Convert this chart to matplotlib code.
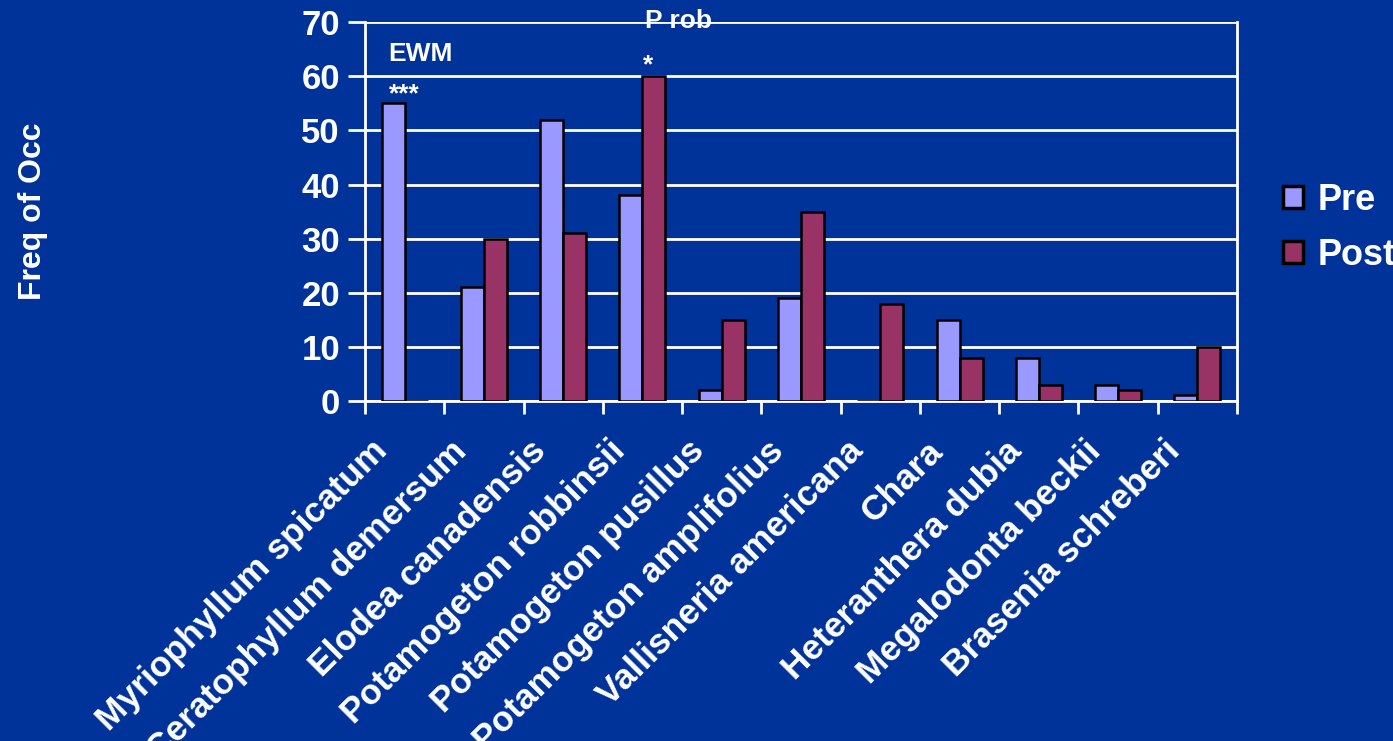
import matplotlib
matplotlib.use('Agg')
import matplotlib.pyplot as plt
import matplotlib.transforms as mtransforms
import numpy as np

plt.rcParams['font.family'] = ['Liberation Sans', 'DejaVu Sans']
plt.rcParams['font.weight'] = 'bold'

species = ['Myriophyllum spicatum', 'Ceratophyllum demersum', 'Elodea canadensis',
           'Potamogeton robbinsii', 'Potamogeton pusillus', 'Potamogeton amplifolius',
           'Vallisneria americana', 'Chara', 'Heteranthera dubia',
           'Megalodonta beckii', 'Brasenia schreberi']
pre = [55, 21, 52, 38, 2, 19, 0, 15, 8, 3, 1]
post = [0, 30, 31, 60, 15, 35, 18, 8, 3, 2, 10]
yticks = [0, 10, 20, 30, 40, 50, 60, 70]

bg = '#003399'
pre_col = '#9999FF'
post_col = '#993366'

fig = plt.figure(figsize=(13.93, 7.41), dpi=100, facecolor=bg)
ax = fig.add_axes([0.262, 0.459, 0.626, 0.511])
ax.set_facecolor(bg)

x = np.arange(len(species))
w = 0.29
ax.bar(x - w/2, pre, w, color=pre_col, edgecolor='black', linewidth=1.8,
       label='Pre', zorder=3)
ax.bar(x + w/2, post, w, color=post_col, edgecolor='black', linewidth=1.8,
       label='Post', zorder=3)

ax.set_xlim(-0.5, len(species) - 0.5)
ax.set_ylim(0, 70)
ax.set_yticks(yticks)
ax.grid(axis='y', color='white', linewidth=2, zorder=1)

# category boundary ticks on x, labels at centers
ax.set_xticks(np.arange(len(species) + 1) - 0.5)
ax.set_xticklabels([])
ax.set_xticks(x, minor=True)
ax.set_xticklabels(species, minor=True, rotation=45, ha='right',
                   rotation_mode='anchor', fontsize=25.5, color='white',
                   fontweight='bold')
ax.tick_params(axis='x', which='minor', length=0, pad=14)
ax.tick_params(axis='x', which='major', length=9, width=2, color='white')
ax.tick_params(axis='y', length=12, width=2, color='white',
               labelsize=25, labelcolor='white', pad=6)
shift = mtransforms.ScaledTranslation(-34/100, -14/100, fig.dpi_scale_trans)
for lab in ax.get_xticklabels(minor=True):
    lab.set_transform(lab.get_transform() + shift)

ax.spines['top'].set_visible(False)
for s in ['left', 'right', 'bottom']:
    ax.spines[s].set_color('white')
    ax.spines[s].set_linewidth(2)

ax.set_ylabel('Freq of Occ', fontsize=23, color='white', fontweight='bold')
ax.yaxis.set_label_coords(-0.364, 0.5)

ax.text(-0.21, 62.9, 'EWM', color='white', fontsize=19, fontweight='bold',
        ha='left', va='baseline')
ax.text(0.0, 55.4, '***', color='white', fontsize=19, fontweight='bold',
        ha='center', va='baseline')
ax.text(3.07, 60.7, '*', color='white', fontsize=19, fontweight='bold',
        ha='center', va='baseline')
ax.text(3.03, 69.0, 'P rob', color='white', fontsize=19, fontweight='bold',
        ha='left', va='baseline', clip_on=False, zorder=0)

leg = fig.legend(*ax.get_legend_handles_labels(), loc='upper left',
                 bbox_to_anchor=(1272/1393, 1 - 172/741), frameon=False,
                 fontsize=26, labelcolor='white', handlelength=0.55,
                 handleheight=0.55, handletextpad=0.4, labelspacing=0.55,
                 borderaxespad=0, borderpad=0.3)
for t in leg.get_texts():
    t.set_fontweight('bold')
for h in leg.legend_handles:
    h.set_linewidth(2.5)

fig.savefig('out.png', dpi=100, facecolor=bg)
